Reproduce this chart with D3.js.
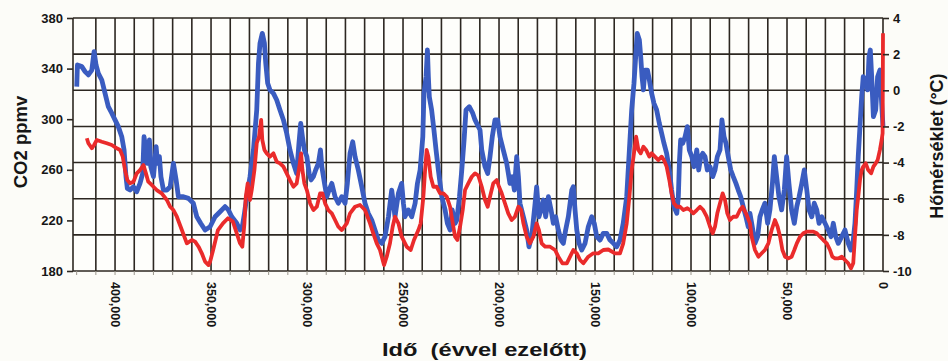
<!DOCTYPE html>
<html>
<head>
<meta charset="utf-8">
<script src="https://cdn.jsdelivr.net/npm/d3@7"></script>
<style>
  html, body { margin: 0; padding: 0; background: #fcfcf8; }
  svg { display: block; }
  text { font-family: "Liberation Sans", Arial, sans-serif; font-weight: bold; fill: #161616; }
</style>
</head>
<body>
<svg id="chart" width="948" height="361"></svg>
<script>
// years before present / temperature anomaly (°C)
const tempAge = [
  419950,419600,417300,415600,413900,412100,410900,409900,408700,406900,405200,403500,401700,400000,398300,396500,
  395300,394300,393600,392200,390400,388700,387000,385600,384900,383900,383200,382100,381400,380000,378600,377900,
  376900,376100,374800,373000,371300,369600,368200,367000,364400,361800,359200,357400,355400,353100,350500,
  347900,345300,342700,341000,339200,336600,334900,333700,332600,331400,329700,327900,326200,325300,324500,323300,
  322200,321500,320500,319300,317500,315800,314100,312300,310600,308900,307100,305400,304200,303300,302400,301400,
  300100,298900,297900,296700,295500,294100,293000,292300,290900,289700,288500,287100,285400,283700,281900,280200,
  279000,277600,276200,275000,273300,271500,269800,268100,266300,264600,262900,261100,259400,257600,255900,255000,
  254200,252400,250700,249800,249000,247200,245500,243700,242500,241100,239700,239100,238000,237300,236800,236300,
  235100,233900,232800,231600,229800,228100,226900,225500,224400,222900,222000,220600,219400,218200,217200,215500,
  213700,212500,209900,209000,207300,205900,204700,203500,202100,200700,199500,197800,196000,194300,193100,192000,
  190800,189900,189100,187300,185600,184400,183000,181200,180400,179200,178100,176900,175700,174300,172900,171700,
  170500,169100,167700,166500,165300,163900,162100,161300,160400,159500,158300,156900,155200,153500,151700,150400,
  149100,147400,145700,143900,142200,140400,138700,137000,135300,133500,132100,130900,129700,128600,128000,126900,
  126200,125500,124800,124000,122700,121700,120500,119300,117900,116500,115300,114100,112700,111300,110100,108900,
  107400,106600,106000,105400,104300,103100,101900,100900,99600,98400,97000,96000,94900,93900,92700,91500,
  90100,88700,87500,86300,84900,83900,82800,81800,80600,79300,78000,76600,75400,74100,72800,71400,
  70200,69300,68100,66700,65300,64100,62900,61500,60100,58900,57600,56600,55400,54200,52800,51400,
  50200,49000,47600,46200,44900,43700,42300,41000,39700,38500,37100,35800,34500,33300,31900,30200,
  28500,27100,25900,24600,23300,21500,19800,18100,16700,15500,14600,13700,12900,12000,11100,10300,
  9000,8000,7300,6600,5900,5000,3800,2800,1600,700,0
];
const tempValues = [
  0.20,1.40,1.31,1.03,0.85,1.12,2.14,1.40,0.94,0.57,-0.17,-0.91,-1.27,-1.64,-2.01,-2.57,
  -3.30,-4.78,-5.43,-5.52,-5.34,-5.61,-5.15,-4.60,-2.57,-3.30,-4.04,-2.75,-4.23,-4.78,-3.12,-4.04,
  -3.67,-4.78,-5.52,-5.52,-5.34,-4.04,-4.96,-5.89,-5.89,-5.98,-6.25,-7.00,-7.36,-7.73,-7.55,
  -7.00,-6.72,-6.44,-6.62,-7.00,-7.36,-7.73,-7.55,-6.81,-5.89,-4.78,-3.30,-1.09,1.49,2.60,3.15,
  2.60,1.49,0.39,0.02,-0.17,-0.54,-1.09,-1.64,-2.38,-3.30,-4.04,-4.60,-2.93,-1.83,-2.57,-3.30,
  -3.67,-4.60,-4.96,-4.78,-4.41,-4.04,-3.30,-4.23,-5.15,-5.89,-5.52,-5.15,-5.89,-6.25,-5.89,-6.25,
  -5.15,-3.49,-2.85,-3.67,-4.41,-5.34,-6.25,-6.81,-7.18,-7.73,-8.29,-8.47,-8.10,-7.00,-5.52,-6.25,
  -7.00,-5.70,-5.15,-6.25,-7.00,-6.62,-7.00,-6.25,-5.15,-4.41,-2.57,-0.17,0.75,2.23,0.75,-0.36,
  -1.09,-2.20,-3.30,-4.41,-5.89,-6.62,-7.36,-7.73,-6.62,-7.36,-7.18,-5.89,-4.41,-2.75,-1.09,-0.91,
  -1.27,-1.64,-2.20,-3.30,-4.23,-4.60,-3.67,-2.57,-1.64,-1.64,-2.57,-3.30,-4.04,-5.15,-4.78,-5.52,
  -3.67,-4.78,-6.25,-7.00,-7.73,-8.66,-8.10,-6.25,-5.34,-7.00,-6.62,-6.07,-7.00,-5.89,-6.62,-7.36,
  -7.00,-7.73,-8.29,-8.47,-7.73,-7.00,-5.52,-5.34,-6.62,-7.73,-8.47,-8.84,-8.47,-7.55,-7.00,-7.36,
  -8.10,-8.29,-7.92,-7.92,-8.29,-8.47,-8.66,-8.29,-7.36,-5.89,-3.30,-1.09,0.39,2.23,3.15,2.78,
  1.86,0.75,0.02,1.12,1.12,0.57,-0.17,-0.72,-1.09,-1.83,-2.38,-2.93,-3.49,-4.41,-5.52,-6.44,
  -6.81,-5.89,-3.86,-2.75,-2.93,-2.57,-2.01,-3.30,-3.67,-4.23,-3.30,-4.41,-3.67,-3.49,-3.67,-4.41,
  -4.23,-4.78,-4.41,-3.67,-3.30,-1.64,-2.57,-2.93,-3.67,-4.41,-4.78,-5.15,-5.52,-5.89,-6.44,-7.00,
  -7.55,-6.81,-7.55,-8.47,-8.10,-7.00,-6.62,-6.25,-7.36,-6.62,-5.15,-3.67,-4.78,-5.89,-6.62,-5.52,
  -3.67,-5.15,-6.62,-7.36,-6.44,-5.89,-5.15,-4.41,-5.52,-6.62,-7.00,-6.25,-6.62,-7.36,-7.00,-7.36,
  -7.73,-8.10,-7.36,-8.10,-8.47,-8.10,-7.73,-8.47,-8.84,-8.29,-7.36,-5.52,-3.67,-2.01,-0.36,0.75,
  0.57,0.02,1.86,2.23,0.75,-1.46,-1.09,0.75,1.12,-0.72,-2.01
];

// years before present / CO2 (ppmv)
const co2Age = [
  414700,413900,412100,410900,409500,406900,404300,401700,399100,397400,396000,394800,393600,392200,390400,388700,
  387000,385200,383900,382700,380900,378300,375700,373000,371300,369600,367800,365200,362600,360000,358300,356500,
  354800,353100,351300,350500,349000,346400,343800,341200,338600,336600,334900,333700,332600,331900,330900,329700,
  328800,327400,326200,325000,323900,323300,322200,321000,319300,317500,315800,314100,312300,310600,308900,307100,
  305400,304000,303100,302400,301400,300100,298400,296700,294900,293200,292000,290600,288900,287100,285400,283700,
  281900,279300,277600,275000,272400,269800,267200,265500,263700,262000,259900,258500,256800,255400,254200,252400,
  250700,248100,246000,244300,242000,240800,239400,238500,237700,236800,235600,234200,232500,230700,229000,227200,
  225500,224100,222900,221700,220300,218900,217700,216000,214200,212500,210800,209000,207300,205900,204700,203000,
  201200,200000,198600,196900,195200,193400,191700,189900,188500,187300,185600,183900,182100,180400,179200,177800,
  176000,173400,170800,169100,167000,164700,163000,161300,159500,157800,156100,153500,150900,148300,145700,143100,
  139600,137000,135300,133500,132100,130900,129700,128600,127400,126200,124800,123400,121700,120500,118800,117000,
  115300,114100,112700,111300,110100,108900,107400,105700,104000,101900,100500,98800,97000,95300,93600,91800,
  90100,88700,87500,86300,84900,83500,82300,81100,79700,78000,76200,74500,73100,71400,69300,68400,
  66700,64900,63200,61500,59700,58000,56300,54900,53600,52400,51000,49300,47600,46200,44900,43200,
  41500,39700,38000,36300,34500,32800,31100,29300,27600,26400,25000,23300,21500,19800,18100,16700,
  15500,14600,13700,12900,12000,11100,10300,9000,7700,6200,5000,3800,2800,1600,700,200,0
];
const co2Values = [
  284.9,281.0,277.0,279.6,283.6,282.2,281.0,279.6,277.0,275.7,270.4,259.8,251.9,249.3,250.6,257.2,
  259.8,263.8,257.2,250.6,248.0,244.0,241.4,236.1,230.8,228.2,222.9,212.4,201.9,204.5,203.2,199.2,
  194.0,187.4,184.7,187.4,196.0,212.4,217.7,221.7,219.0,209.8,201.9,199.2,217.7,238.7,249.3,236.1,
  244.0,259.8,281.0,286.2,299.4,283.6,275.7,273.0,270.4,273.0,266.4,265.1,262.5,257.2,251.9,246.6,
  249.3,262.5,273.0,259.8,249.3,244.0,233.5,228.2,230.8,241.4,241.4,233.5,228.2,225.6,220.3,215.0,
  212.4,217.7,225.6,230.8,232.2,228.2,217.7,209.8,201.9,196.6,184.7,191.3,201.9,215.0,222.9,217.7,
  207.1,199.2,196.6,204.5,212.4,217.7,238.7,259.8,275.7,270.4,254.5,246.6,246.6,241.4,241.4,238.7,
  230.8,217.7,207.1,204.5,215.0,228.2,244.0,249.3,254.5,257.2,255.5,246.6,236.1,230.8,238.7,249.3,
  251.9,246.6,241.4,233.5,225.6,220.3,222.9,230.8,228.2,217.7,207.1,201.9,207.1,217.7,212.4,201.9,
  199.2,199.2,196.6,191.3,186.1,186.1,191.3,196.6,194.0,188.7,186.1,191.3,194.0,194.0,196.6,197.0,
  194.0,194.0,201.9,217.7,238.7,259.8,273.0,286.2,275.7,273.0,278.3,275.7,270.4,273.0,270.4,267.7,
  270.4,267.7,262.5,251.9,241.4,233.5,230.8,230.8,228.2,229.6,228.2,225.6,228.2,230.8,228.2,222.9,
  215.0,209.8,215.0,225.6,233.5,241.4,236.1,225.6,220.3,222.9,222.9,228.2,230.8,225.6,217.7,207.1,
  196.6,191.3,194.0,196.6,201.9,212.4,220.3,215.0,207.1,196.6,191.3,190.0,191.3,196.6,201.9,207.1,
  209.8,211.1,211.1,211.1,209.8,207.1,204.5,201.9,196.6,191.3,190.0,190.0,191.3,188.7,186.1,182.1,
  186.1,207.1,228.2,238.7,251.9,259.8,262.5,265.1,259.8,257.2,262.5,265.1,267.7,275.7,283.6,288.9,368.0
];

const co2Ticks  = [180, 220, 260, 300, 340, 380];
const tempTicks = [-10, -8, -6, -4, -2, 0, 2, 4];
const ageTicks  = [400000, 350000, 300000, 250000, 200000, 150000, 100000, 50000, 0];
const ageGrid   = d3.range(410000, 0, -10000);

const plotLeft = 73, plotRight = 883, plotTop = 18, plotBottom = 271;

const svg = d3.select('#chart');

const x     = d3.scaleLinear().domain([421900, 0]).range([plotLeft, plotRight]);
const yCo2  = d3.scaleLinear().domain([180, 380]).range([plotBottom, plotTop]);
const yTemp = d3.scaleLinear().domain([-10, 4]).range([plotBottom, plotTop]);

svg.append('rect')
  .attr('x', plotLeft).attr('y', plotTop)
  .attr('width', plotRight - plotLeft).attr('height', plotBottom - plotTop)
  .style('fill', '#fefefb');

const grid = svg.append('g').attr('class', 'grid')
  .style('stroke', '#2c2721').style('stroke-width', 1.6);

grid.selectAll(null).data(ageGrid).enter()
  .append('line')
  .attr('x1', d => x(d)).attr('x2', d => x(d))
  .attr('y1', plotTop).attr('y2', plotBottom);

grid.selectAll(null).data(tempTicks).enter()
  .append('line')
  .attr('x1', plotLeft).attr('x2', plotRight)
  .attr('y1', d => yTemp(d)).attr('y2', d => yTemp(d));

grid.append('line').attr('x1', plotLeft).attr('x2', plotLeft).attr('y1', plotTop).attr('y2', plotBottom);
grid.append('line').attr('x1', plotRight).attr('x2', plotRight).attr('y1', plotTop).attr('y2', plotBottom);

// small ticks under the time axis
svg.append('g').selectAll(null).data(ageGrid.concat([420000])).enter()
  .append('line')
  .attr('x1', d => x(d)).attr('x2', d => x(d))
  .attr('y1', plotBottom).attr('y2', plotBottom + 4)
  .style('stroke', '#9a968c').style('stroke-width', 1);

const tempLine = d3.line()
  .x((d, i) => x(tempAge[i]))
  .y(d => yTemp(d));

const co2Line = d3.line()
  .x((d, i) => x(co2Age[i]))
  .y(d => yCo2(d));

svg.append('path')
  .datum(tempValues)
  .attr('d', tempLine)
  .style('fill', 'none')
  .style('stroke', '#3a5cc0')
  .style('stroke-width', 4.8)
  .style('stroke-linejoin', 'round');

svg.append('path')
  .datum(co2Values)
  .attr('d', co2Line)
  .style('fill', 'none')
  .style('stroke', '#ea2b2b')
  .style('stroke-width', 3.8)
  .style('stroke-linejoin', 'round');

// axes
const leftAxis = svg.append('g')
  .attr('transform', `translate(${plotLeft},0)`)
  .call(d3.axisLeft(yCo2).tickValues(co2Ticks).tickSize(6).tickPadding(4).tickFormat(d => String(d)));

const rightAxis = svg.append('g')
  .attr('transform', `translate(${plotRight},0)`)
  .call(d3.axisRight(yTemp).tickValues(tempTicks).tickSize(6).tickPadding(4).tickFormat(d => String(d)));

const bottomAxis = svg.append('g')
  .attr('transform', `translate(0,${plotBottom})`)
  .call(d3.axisBottom(x).tickValues(ageTicks).tickSize(0).tickFormat(d3.format(',')));

[leftAxis, rightAxis, bottomAxis].forEach(a => {
  a.select('.domain').remove();
  a.selectAll('.tick line').style('stroke', '#2c2721').style('stroke-width', 1.6);
  a.selectAll('text').style('font-size', '13px').style('fill', '#161616');
});

bottomAxis.selectAll('text')
  .attr('transform', 'rotate(90)')
  .attr('x', 11)
  .attr('y', 0)
  .attr('dy', '0.35em')
  .style('text-anchor', 'start')
  .style('font-size', '12.5px');

// titles
svg.append('text')
  .attr('x', 382).attr('y', 356)
  .attr('textLength', 205)
  .attr('lengthAdjust', 'spacingAndGlyphs')
  .style('white-space', 'pre')
  .style('font-size', '18.5px')
  .text('Idő  (évvel ezelőtt)');

svg.append('text')
  .attr('transform', 'translate(27,142) rotate(-90)')
  .attr('text-anchor', 'middle')
  .style('font-size', '18.5px')
  .text('CO2 ppmv');

svg.append('text')
  .attr('transform', 'translate(929,146) rotate(-90)')
  .attr('text-anchor', 'middle')
  .attr('dy', '0.8em')
  .style('font-size', '18px')
  .text('Hőmérséklet (°C)');
</script>
</body>
</html>
